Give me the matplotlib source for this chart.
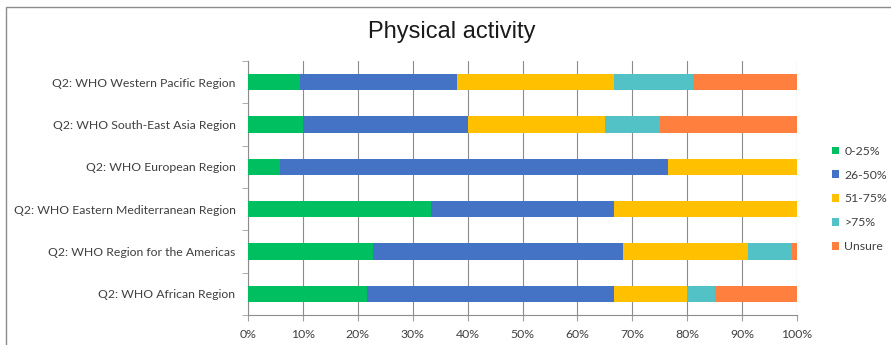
import matplotlib.pyplot as plt
import numpy as np

regions = ["Q2: WHO Western Pacific Region",
           "Q2: WHO South-East Asia Region",
           "Q2: WHO European Region",
           "Q2: WHO Eastern Mediterranean Region",
           "Q2: WHO Region for the Americas",
           "Q2: WHO African Region"]
levels = ["0-25%", "26-50%", "51-75%", ">75%", "Unsure"]

# shares (%) per region, same order as regions
p_0_25 = [9.5, 10.0, 5.9, 33.3, 22.7, 21.7]
p_26_50 = [28.6, 30.0, 70.6, 33.4, 45.6, 45.0]
p_51_75 = [28.6, 25.0, 23.5, 33.3, 22.7, 13.3]
p_75 = [14.3, 10.0, 0.0, 0.0, 8.0, 5.0]
p_unsure = [19.0, 25.0, 0.0, 0.0, 1.0, 15.0]

colors = ["#00BF60", "#4472C4", "#FFC000", "#52C2C6", "#FF7F3F"]

plt.rcParams['font.family'] = ['Lato', 'DejaVu Sans']

fig = plt.figure(figsize=(8.91, 3.45), dpi=100)
ax = fig.add_axes([248/891, 1-315/345, (797-248)/891, (315-61)/345])

y = np.arange(len(regions))[::-1]
left = np.zeros(len(regions))
for name, vals, c in zip(levels, [p_0_25, p_26_50, p_51_75, p_75, p_unsure], colors):
    ax.barh(y, vals, left=left, height=0.39, color=c, label=name, zorder=3)
    left += np.array(vals)

ax.set_xlim(0, 100)
ax.set_ylim(-0.5, 5.5)
ax.set_xticks(np.arange(0, 101, 10))
ax.set_xticklabels([f"{v}%" for v in range(0, 101, 10)], fontsize=8.8, color="#404040")
ax.set_yticks(y)
ax.set_yticklabels(regions, fontsize=8.8, color="#404040")
ax.set_yticks(np.arange(-0.5, 6, 1), minor=True)
ax.tick_params(axis='y', which='major', length=0, pad=9)
ax.tick_params(axis='y', which='minor', length=4, color="#a0a0a0")
ax.tick_params(axis='x', length=4, color="#a0a0a0", pad=6)
ax.grid(axis='x', color="#8c8c8c", linewidth=0.8, zorder=0)
for s in ['top', 'right']:
    ax.spines[s].set_visible(False)
ax.spines['left'].set_color("#8c8c8c")
ax.spines['bottom'].set_color("#8c8c8c")

fig.text(452/891, 1-32/345, "Physical activity", ha='center', va='center',
         fontsize=17, family=['Liberation Sans'], color="#1a1a1a")

ax.legend(loc='center left', bbox_to_anchor=(826/891, 1-199/345),
          bbox_transform=fig.transFigure, frameon=False, fontsize=8.8,
          handlelength=0.6, handleheight=0.6, handletextpad=0.4,
          labelspacing=1.05, borderpad=0, labelcolor="#404040")

# outer chart border
fig.add_artist(plt.Rectangle((6/891, -0.01), 1.0, 1-7/345 + 0.01,
                             transform=fig.transFigure, fill=False,
                             edgecolor="#8c8c8c", linewidth=1.0))

fig.savefig("out.png", dpi=100)
